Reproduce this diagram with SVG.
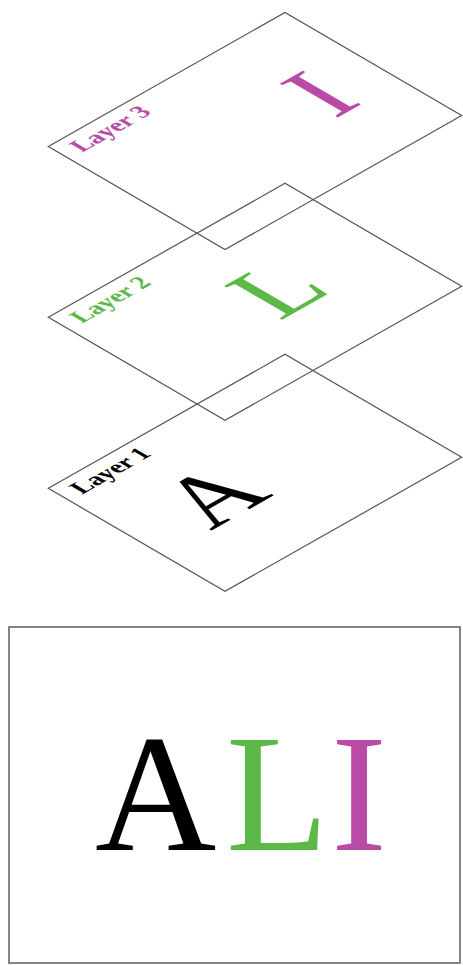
<svg xmlns="http://www.w3.org/2000/svg" width="463" height="965" viewBox="0 0 463 965">
<style>
.plane{fill:none;stroke:#555;stroke-width:1.2;vector-effect:non-scaling-stroke}
.lbl{font-family:"Liberation Serif","Times New Roman",serif;font-size:41px;font-weight:bold}
.big{font-family:"Liberation Serif","Times New Roman",serif;font-size:168px}
.k{fill:#000}.g{fill:#5cb947}.m{fill:#b94aa6}
</style>
<rect width="463" height="965" fill="#fff"/>
<g id="layer1" transform="matrix(0.5248,-0.2971,0.5259,0.3065,48.3,488.3)">
<rect class="plane" x="0" y="0" width="451" height="336"/>
<text class="lbl k" x="22" y="42">Layer 1</text>
<text class="big k" x="86" y="223">A</text>
</g>
<g id="layer2" transform="matrix(0.5248,-0.2971,0.5259,0.3065,48.3,317.3)">
<rect class="plane" x="0" y="0" width="451" height="336"/>
<text class="lbl g" x="22" y="42">Layer 2</text>
<text class="big g" x="217" y="223">L</text>
</g>
<g id="layer3" transform="matrix(0.5248,-0.2971,0.5259,0.3065,48.3,146.5)">
<rect class="plane" x="0" y="0" width="451" height="336"/>
<text class="lbl m" x="22" y="42">Layer 3</text>
<text class="big m" x="322" y="223">I</text>
</g>
<g id="result">
<rect x="9" y="627" width="451" height="336" fill="none" stroke="#777" stroke-width="1.8"/>
<text class="big k" x="95" y="850">A</text>
<text class="big g" x="226" y="850">L</text>
<text class="big m" x="331" y="850">I</text>
</g>
</svg>
